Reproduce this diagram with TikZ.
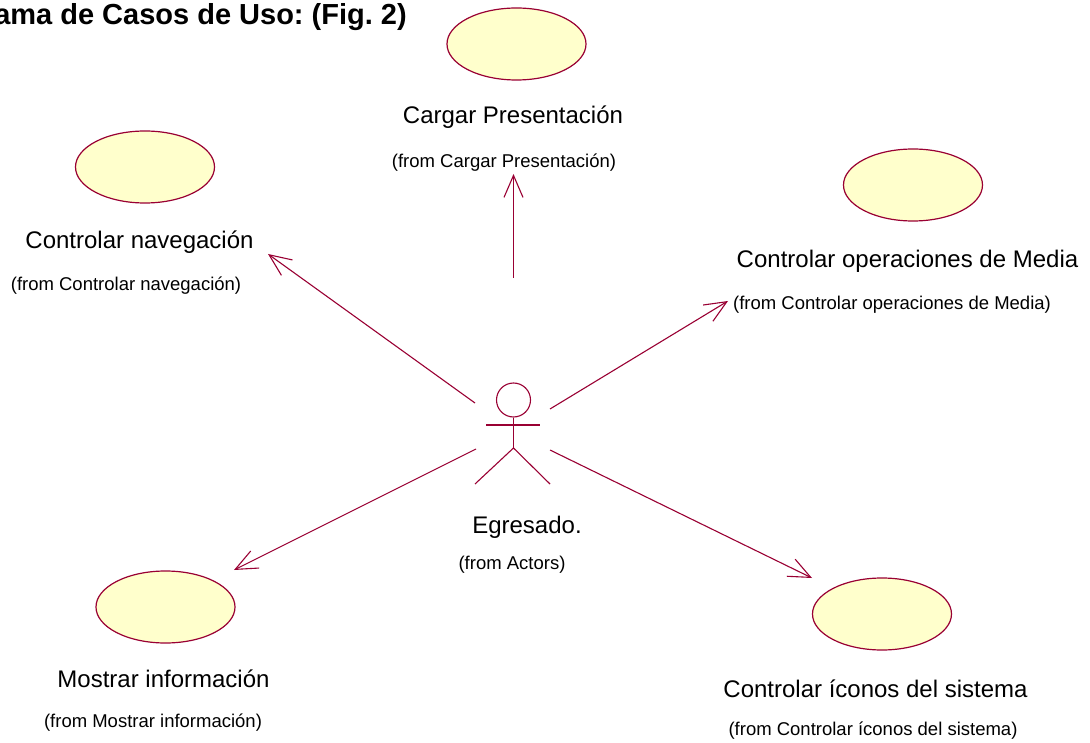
\documentclass[tikz,border=0pt]{standalone}
\usepackage{fontspec}
\setmainfont{Liberation Sans}
\usetikzlibrary{shapes.geometric,arrows.meta}
\frenchspacing
\definecolor{umlline}{HTML}{990033}
\definecolor{umlfill}{HTML}{FFFFCC}
\tikzset{
  usecase/.style={ellipse, draw=umlline, fill=umlfill, line width=1.2pt,
    minimum width=139pt, minimum height=72pt, inner sep=0pt},
  casename/.style={font=\fontsize{24}{28}\selectfont, inner sep=0pt},
  fromname/.style={font=\fontsize{18.5}{22}\selectfont, inner sep=0pt},
  assoc/.style={draw=umlline, line width=1.1pt,
    -{Straight Barb[length=22pt,width=19pt,line width=1.1pt]}},
  actorline/.style={draw=umlline, line width=1.1pt}
}
\begin{document}
\begin{tikzpicture}[x=1pt,y=-1pt]
\useasboundingbox (0,0) rectangle (1090,743);
\clip (0,0) rectangle (1090,743);

% title, running off the left edge of the sheet
\node[anchor=base east, inner sep=0pt, font=\fontsize{29}{33}\bfseries\selectfont]
  (title) at (407,25) {Diagrama de Casos de Uso: (Fig. 2)};

% use cases
\node[usecase] (uc1) at (516.5,44) {};
\node[casename] (uc1n) at (513,117) {Cargar Presentación};
\node[fromname] (uc1f) at (504,163) {(from Cargar Presentación)};

\node[usecase] (uc2) at (145,167) {};
\node[casename] (uc2n) at (139.5,242) {Controlar navegación};
\node[fromname] (uc2f) at (126,286) {(from Controlar navegación)};

\node[usecase] (uc3) at (913,185) {};
\node[casename] (uc3n) at (907.5,261) {Controlar operaciones de Media};
\node[fromname] (uc3f) at (892,305) {(from Controlar operaciones de Media)};

\node[usecase] (uc4) at (165.5,607) {};
\node[casename] (uc4n) at (163.5,679) {Mostrar información};
\node[fromname] (uc4f) at (153,723) {(from Mostrar información)};

\node[usecase] (uc5) at (882,614) {};
\node[casename] (uc5n) at (875.5,689) {Controlar íconos del sistema};
\node[fromname] (uc5f) at (873,731) {(from Controlar íconos del sistema)};

% actor
\node[circle, draw=umlline, line width=1.1pt, minimum size=34pt, inner sep=0pt]
  (head) at (513.5,400) {};
\coordinate (armL) at (486,425);
\coordinate (armR) at (540,425);
\coordinate (hip) at (513.5,448);
\coordinate (footL) at (475,484);
\coordinate (footR) at (550,484);
\draw[actorline] (head.south) -- (hip);
\draw[actorline] (armL) -- (armR);
\draw[actorline] (footL) -- (hip) -- (footR);
\node[casename] (actn) at (527,527) {Egresado.};
\node[fromname] (actf) at (512,565) {(from Actors)};

% association ends
\coordinate (s1) at (513.5,278); \coordinate (t1) at (513.5,174);
\coordinate (s2) at (475,403);   \coordinate (t2) at (268,254);
\coordinate (s3) at (550,409);   \coordinate (t3) at (728,301);
\coordinate (s4) at (476,449);   \coordinate (t4) at (234,570);
\coordinate (s5) at (550,450);   \coordinate (t5) at (812,578);

\draw[assoc] (s1) -- (t1);
\draw[assoc] (s2) -- (t2);
\draw[assoc] (s3) -- (t3);
\draw[assoc] (s4) -- (t4);
\draw[assoc] (s5) -- (t5);
\end{tikzpicture}
\end{document}
